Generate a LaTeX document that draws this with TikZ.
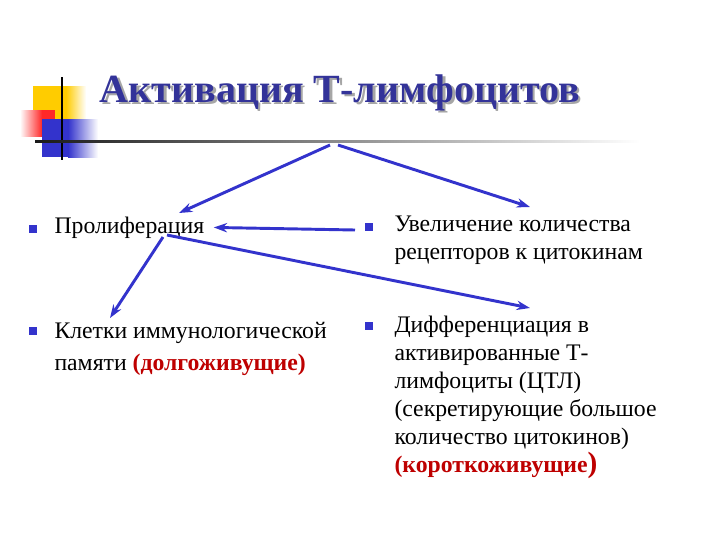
\documentclass[tikz,border=0pt]{standalone}
\usepackage{fontspec}
\setmainfont{Liberation Serif}
\usetikzlibrary{arrows.meta}

\definecolor{titleblue}{RGB}{51,51,153}
\definecolor{arrowblue}{RGB}{51,51,204}
\definecolor{darkred}{RGB}{190,0,0}
\definecolor{decoyellow}{RGB}{255,204,0}
\definecolor{decored}{RGB}{255,40,40}

\tikzset{every picture/.style={line width=0.75pt}}
\tikzset{
  flow/.style={draw=arrowblue, line width=2.2pt, -{Stealth[length=10pt,width=7pt]}},
  bulletsq/.style={fill=arrowblue, minimum size=5.5pt, inner sep=0pt},
  itemtext/.style={anchor=base west, inner sep=0.75pt, align=left, font=\fontsize{17.8}{21}\selectfont},
  titletext/.style={anchor=base, inner sep=0.75pt, font=\fontsize{30}{36}\selectfont\bfseries},
}
\newcommand{\longlived}[1]{{\bfseries\color{darkred}#1}}

\begin{document}
\begin{tikzpicture}[x=0.75pt,y=0.75pt,yscale=-1,xscale=1]
\useasboundingbox (0,0) rectangle (720,540);

%Decoration squares
\fill [decoyellow] (33,86) rectangle (66,119);
\shade [left color=decoyellow, right color=white] (66,86) rectangle (86,119);
\shade [left color=white, right color=decored] (20,110) rectangle (42,136);
\fill [decored] (42,110) rectangle (55,136);
\fill [arrowblue] (42,119) rectangle (68,157);
\shade [left color=arrowblue, right color=white] (68,119) rectangle (98,157);
%Straight Lines
\draw [line width=1.5pt] (62,77) -- (62,160);
%Title rule
\shade [left color=black!90, middle color=black!55, right color=white] (35,140) rectangle (640,142.5);

% Title
\node [titletext, text=black!35] at (342.5,104.5) {Активация Т-лимфоцитов};
\node (title) [titletext, text=titleblue] at (340,102) {Активация Т-лимфоцитов};

% Bullets
\node (b1) [bulletsq] at (33,229) {};
\node (b2) [bulletsq] at (33,331) {};
\node (b3) [bulletsq] at (369,227) {};
\node (b4) [bulletsq] at (369,326) {};

% Text Node (base = last line)
\node (prolif) [itemtext] at (53,233) {Пролиферация};
% Text Node
\node (memory) [itemtext, font=\fontsize{17.8}{24}\selectfont] at (53,370) {Клетки иммунологической\\памяти \longlived{(долгоживущие)}};
% Text Node
\node (receptors) [itemtext] at (393,259) {Увеличение количества\\рецепторов к цитокинам};
% Text Node
\node (diff) [itemtext] at (393,472) {Дифференциация в\\активированные Т-\\лимфоциты (ЦТЛ)\\(секретирующие большое\\количество цитокинов)\\\longlived{(короткоживущие{\fontsize{22}{21}\selectfont)}}};

% Arrow ends
\coordinate (forkL) at (330,145);
\coordinate (forkR) at (338,145);
\coordinate (prolifTop) at (179,213);
\coordinate (recTop) at (530,207);
\coordinate (recLeft) at (355,230);
\coordinate (prolifLow) at (163,237);
\coordinate (prolifLowR) at (167,235);
\coordinate (memTop) at (110,318);
\coordinate (diffTop) at (530,308);

%Straight Lines
\draw [flow] (forkL) -- (prolifTop);
\draw [flow] (forkR) -- (recTop);
\draw [flow, shorten >=6pt] (recLeft) -- (prolif.east);
\draw [flow] (prolifLow) -- (memTop);
\draw [flow] (prolifLowR) -- (diffTop);

\end{tikzpicture}
\end{document}
